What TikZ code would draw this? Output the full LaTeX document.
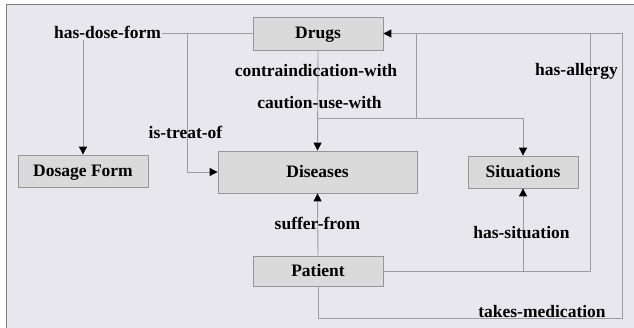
\documentclass[tikz,border=0pt]{standalone}
\usepackage{fontspec}
\setmainfont{Liberation Serif}
\usetikzlibrary{arrows.meta}
\definecolor{bgc}{RGB}{232,231,238}
\definecolor{boxc}{RGB}{218,218,218}
\definecolor{boxd}{RGB}{150,150,150}
\definecolor{linec}{RGB}{155,155,160}
\definecolor{framec}{RGB}{125,125,130}
\begin{document}
\begin{tikzpicture}[x=1pt,y=-1pt,
  font=\fontsize{17.5}{20}\selectfont\bfseries,
  box/.style={draw=boxd,fill=boxc,line width=0.8pt,inner sep=0pt,text height=12pt,text depth=1pt},
  lab/.style={anchor=base,inner sep=0pt},
  conn/.style={draw=linec,line width=0.9pt},
  arr/.style={conn,-{Triangle[length=8pt,width=8pt,fill=black,color=black]}}
]
\useasboundingbox (0,0) rectangle (634,328);
\fill[bgc] (6,5) rectangle (634,328);
\draw[framec,line width=1pt] (6,328) -- (6,5) -- (634,5);

\node[box,minimum width=130pt,minimum height=33pt] (drugs) at (318,33.5) {Drugs};
\node[box,minimum width=130pt,minimum height=32pt] (dosage) at (83,171) {Dosage Form};
\node[box,minimum width=199pt,minimum height=42pt] (dis) at (317.5,172) {Diseases};
\node[box,minimum width=110pt,minimum height=32pt] (sit) at (523,172) {Situations};
\node[box,minimum width=130pt,minimum height=30pt] (pat) at (318,271) {Patient};

\coordinate (tr) at (187,33.5);
\coordinate (jn) at (318,118);
\coordinate (jr) at (416,33.5);
\coordinate (jb) at (416,118);
\coordinate (al) at (590,33.5);
\coordinate (tm) at (622,318);
\coordinate (hs) at (523,271);

% has-dose-form
\draw[arr] (drugs.west) -| (dosage.north);
\node[lab,fill=bgc,inner sep=1pt] (lhdf) at (107.5,39) {has-dose-form};
% is-treat-of
\draw[arr] (tr) |- (dis.west);
% contraindication / caution
\draw[arr] (drugs.south) -- (dis.north);
\draw[arr] (jn) -| (sit.north);
\draw[conn] (jr) -- (jb);
% takes-medication
\draw[arr] (pat.south) |- (tm) |- (drugs.east);
% has-allergy
\draw[conn] (pat.east) -| (al);
% has-situation
\draw[arr] (hs) -- (sit.south);
% suffer-from
\draw[arr] (pat.north) -- (dis.south);

\node[lab] (lci) at (316,76.5) {contraindication-with};
\node[lab] (lcu) at (319.5,108.5) {caution-use-with};
\node[lab] (lit) at (185.5,139) {is-treat-of};
\node[lab] (lha) at (576.5,76) {has-allergy};
\node[lab] (lsf) at (317.5,230) {suffer-from};
\node[lab] (lhs) at (521.5,239) {has-situation};
\node[lab] (ltm) at (542,317.5) {takes-medication};
\end{tikzpicture}
\end{document}
